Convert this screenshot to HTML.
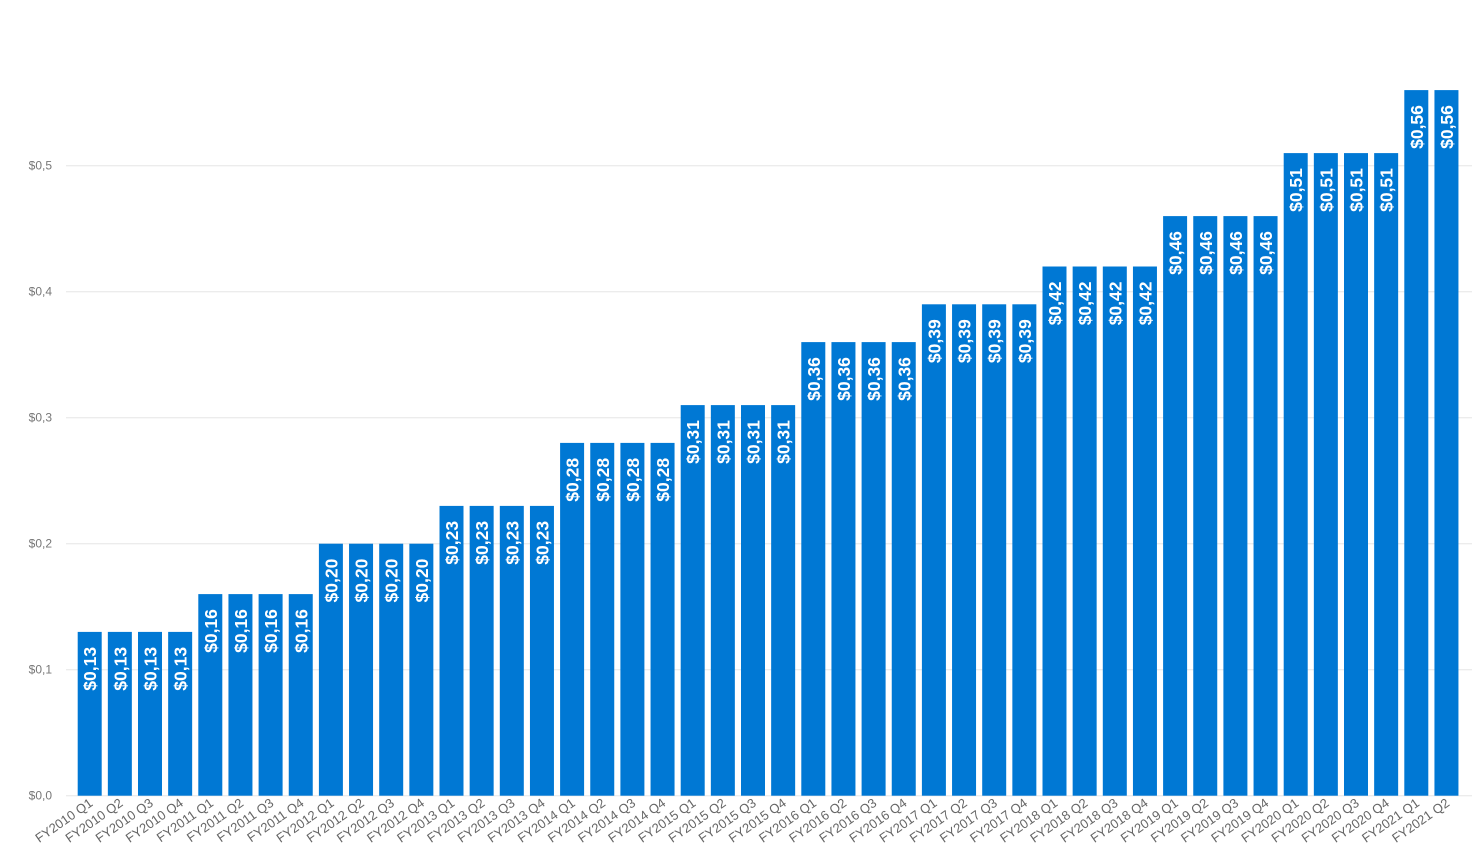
<!DOCTYPE html>
<html><head><meta charset="utf-8"><style>body{margin:0;background:#fff}</style></head><body>
<svg id="c" width="1472" height="855" xmlns="http://www.w3.org/2000/svg" font-family="Liberation Sans, sans-serif"></svg>
<script>
const s=document.getElementById('c');let h='';
const y0=795.7,k=1260;
for(let i=0;i<=5;i++){const y=y0-i*126;h+=`<line x1="66" x2="1472" y1="${y}" y2="${y}" stroke="#e6e6e6" stroke-width="1"/>`;
h+=`<text x="52" y="${y+4}" font-size="12" fill="#777" text-anchor="end">$0,${i}</text>`;}
const v=[.13,.16,.20,.23,.28,.31,.36,.39,.42,.46,.51,.56];
for(let i=0;i<46;i++){const val=v[Math.floor(i/4)];const x=77.7+i*30.15,cx=x+12,t=y0-val*k;
h+=`<rect x="${x}" y="${t}" width="24" height="${y0-t}" fill="#0078d4"/>`;
h+=`<text transform="translate(${cx+6.5},${t+15}) rotate(-90)" font-size="17.5" font-weight="bold" fill="#fff" text-anchor="end">$${val.toFixed(2).replace('.',',')}</text>`;
const fy=2010+Math.floor(i/4),q=i%4+1;
h+=`<text transform="translate(${cx+4},${805}) rotate(-35)" font-size="13" fill="#666" text-anchor="end">FY${fy} Q${q}</text>`;}
s.innerHTML=h;
</script>
</body></html>
